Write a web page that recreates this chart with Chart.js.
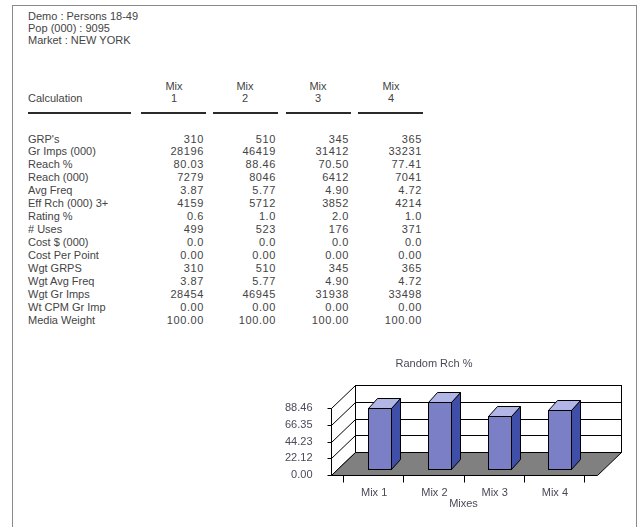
<!DOCTYPE html>
<html>
<head>
<meta charset="utf-8">
<title>Random Rch %</title>
<script src="https://cdn.jsdelivr.net/npm/chart.js@4/dist/chart.umd.min.js"></script>
<style>
  body { margin: 0; width: 639px; height: 527px; overflow: hidden; background: #fff;
         font-family: "Liberation Sans", Arial, sans-serif; font-size: 11px; color: #444; }
  #frame { position: absolute; left: 12px; top: 5px; width: 623px; height: 600px; border: 1px solid #8a8a8a; border-bottom: none; }
  .t { position: absolute; line-height: 13px; white-space: nowrap; }
  .num { letter-spacing: 0.6px; text-align: right; }
  .rule { position: absolute; height: 2px; background: #2a2a2a; top: 112px; }
  #chart { position: absolute; left: 262px; top: 345px; }
</style>
</head>
<body>
<div id="frame"></div>
<div id="report"></div>
<canvas id="chart" width="372" height="172"></canvas>
<script>
const headerLines = ['Demo : Persons 18-49', 'Pop (000) : 9095', 'Market : NEW YORK'];
const mixes = ['Mix 1', 'Mix 2', 'Mix 3', 'Mix 4'];
const rowLabels = ["GRP's", 'Gr Imps (000)', 'Reach %', 'Reach (000)', 'Avg Freq', 'Eff Rch (000) 3+',
    'Rating %', '# Uses', 'Cost $ (000)', 'Cost Per Point', 'Wgt GRPS', 'Wgt Avg Freq',
    'Wgt Gr Imps', 'Wt CPM Gr Imp', 'Media Weight'];
const rowDecimals = [0, 0, 2, 0, 2, 0, 1, 0, 1, 2, 0, 2, 0, 2, 2];
const mix1 = [310, 28196, 80.03, 7279, 3.87, 4159, 0.6, 499, 0.0, 0.00, 310, 3.87, 28454, 0.00, 100.00];
const mix2 = [510, 46419, 88.46, 8046, 5.77, 5712, 1.0, 523, 0.0, 0.00, 510, 5.77, 46945, 0.00, 100.00];
const mix3 = [345, 31412, 70.50, 6412, 4.90, 3852, 2.0, 176, 0.0, 0.00, 345, 4.90, 31938, 0.00, 100.00];
const mix4 = [365, 33231, 77.41, 7041, 4.72, 4214, 1.0, 371, 0.0, 0.00, 365, 4.72, 33498, 0.00, 100.00];

const chartTitle = 'Random Rch %';
const xAxisTitle = 'Mixes';
const randomReach = [80.03, 88.46, 70.50, 77.41];
const yTickValues = [0, 22.12, 44.23, 66.35, 88.46];
const yTickLabels = ['0.00', '22.12', '44.23', '66.35', '88.46'];

// ---- table part of the report ----
const report = document.getElementById('report');
function addText(text, left, top, cls, right) {
    const el = document.createElement('div');
    el.className = 't ' + (cls || '');
    el.textContent = text;
    el.style.top = top + 'px';
    if (right !== undefined) {
        el.style.right = (639 - right) + 'px';
    } else {
        el.style.left = left + 'px';
    }
    report.appendChild(el);
    return el;
}

headerLines.forEach((line, i) => addText(line, 28, 10 + i * 12));

const colRight = [204, 276, 349, 422];
const colCenter = [174, 245, 318, 391];
const rules = [[28, 131], [141, 206], [213, 278], [286, 351], [358, 423]];

addText('Calculation', 28, 92);
mixes.forEach((m, i) => {
    const parts = m.split(' ');
    const a = addText(parts[0], colCenter[i] - 20, 80);
    a.style.width = '40px'; a.style.textAlign = 'center';
    const b = addText(parts[1], colCenter[i] - 20, 92);
    b.style.width = '40px'; b.style.textAlign = 'center';
});
rules.forEach(r => {
    const el = document.createElement('div');
    el.className = 'rule';
    el.style.left = r[0] + 'px';
    el.style.width = (r[1] - r[0]) + 'px';
    report.appendChild(el);
});

const columns = [mix1, mix2, mix3, mix4];
rowLabels.forEach((label, i) => {
    const top = 132.5 + i * 12.97;
    addText(label, 28, top);
    columns.forEach((col, c) => {
        addText(col[i].toFixed(rowDecimals[i]), 0, top, 'num', colRight[c]);
    });
});

// ---- 3D bar chart ----
const depth = { dx: 24, dy: -23 };
const barDepth = { start: 6, dx: 9, dy: -10 };
const textColor = '#4a4a5a';
const font = '11px "Liberation Sans", Arial, sans-serif';

function line(ctx, pts) {
    ctx.beginPath();
    ctx.moveTo(pts[0][0], pts[0][1]);
    for (let i = 1; i < pts.length; i++) ctx.lineTo(pts[i][0], pts[i][1]);
}

const box3d = {
    id: 'box3d',
    beforeDatasetsDraw(chart) {
        const { ctx, chartArea: a, scales: { x, y } } = chart;
        const yMax = yTickValues[yTickValues.length - 1];
        const L = Math.round(a.left - 12) + 0.5;
        const R = Math.round(a.right + 13) + 0.5;
        const B = Math.round(y.getPixelForValue(0)) + 0.5;
        const T = Math.round(y.getPixelForValue(yMax)) + 0.5;
        const { dx, dy } = depth;
        ctx.save();
        ctx.lineWidth = 1;
        ctx.strokeStyle = '#000';

        // back wall
        ctx.fillStyle = '#fff';
        ctx.fillRect(L + dx, T + dy, R - L, B - T);
        ctx.strokeRect(L + dx, T + dy, R - L, B - T);

        // grid on left and back wall, ticks on the front axis
        yTickValues.forEach(v => {
            const py = Math.round(y.getPixelForValue(v)) + 0.5;
            line(ctx, [[L, py], [L + dx, py + dy], [R + dx, py + dy]]);
            ctx.stroke();
            line(ctx, [[L - 4, py], [L, py]]);
            ctx.stroke();
        });
        line(ctx, [[L + dx, B + dy], [L + dx, T + dy]]);
        ctx.stroke();
        line(ctx, [[L, B], [L, T]]);
        ctx.stroke();

        // floor
        line(ctx, [[L, B], [R, B], [R + dx, B + dy], [L + dx, B + dy]]);
        ctx.closePath();
        ctx.fillStyle = '#808080';
        ctx.fill();
        ctx.stroke();

        // category ticks
        const n = chart.data.labels.length;
        for (let i = 0; i <= n; i++) {
            const px = Math.round(a.left + i * a.width / n) + 0.5;
            line(ctx, [[px, B], [px, B + 7]]);
            ctx.stroke();
        }

        // texts
        ctx.fillStyle = textColor;
        ctx.font = font;
        ctx.textAlign = 'right';
        ctx.textBaseline = 'middle';
        yTickValues.forEach((v, i) => {
            ctx.fillText(yTickLabels[i], L - 19, y.getPixelForValue(v));
        });
        ctx.textAlign = 'center';
        chart.data.labels.forEach((lab, i) => {
            ctx.fillText(lab, x.getPixelForValue(i) + 1, B + 17);
        });
        ctx.fillText(xAxisTitle, (a.left + a.right) / 2, B + 28);
        ctx.fillText(chartTitle, 172, 19);
        ctx.restore();
    },
    afterDatasetsDraw(chart) {
        const { ctx } = chart;
        const meta = chart.getDatasetMeta(0);
        ctx.save();
        ctx.lineWidth = 1;
        ctx.strokeStyle = '#000';
        meta.data.forEach(bar => {
            const p = bar.getProps(['x', 'y', 'base', 'width'], true);
            const x0 = Math.round(p.x - p.width / 2 + barDepth.start) + 0.5;
            const x1 = Math.round(p.x + p.width / 2 + barDepth.start) + 0.5;
            const y0 = Math.round(p.y - barDepth.start) + 0.5;
            const y1 = Math.round(p.base - barDepth.start) + 0.5;
            const { dx, dy } = barDepth;
            // side
            line(ctx, [[x1, y0], [x1 + dx, y0 + dy], [x1 + dx, y1 + dy], [x1, y1]]);
            ctx.closePath();
            ctx.fillStyle = '#3f4fa8';
            ctx.fill(); ctx.stroke();
            // top
            line(ctx, [[x0, y0], [x0 + dx, y0 + dy], [x1 + dx, y0 + dy], [x1, y0]]);
            ctx.closePath();
            ctx.fillStyle = '#b2b6e6';
            ctx.fill(); ctx.stroke();
            // front
            ctx.fillStyle = '#7b7fc6';
            ctx.fillRect(x0, y0, x1 - x0, y1 - y0);
            ctx.strokeRect(x0, y0, x1 - x0, y1 - y0);
        });
        ctx.restore();
    }
};

new Chart(document.getElementById('chart'), {
    type: 'bar',
    data: {
        labels: mixes,
        datasets: [{
            label: chartTitle,
            data: randomReach,
            backgroundColor: 'rgba(0,0,0,0)',
            borderWidth: 0,
            categoryPercentage: 1,
            barPercentage: 0.38
        }]
    },
    options: {
        responsive: false,
        animation: false,
        layout: { padding: { left: 81, right: 50, top: 63, bottom: 42 } },
        plugins: {
            legend: { display: false },
            tooltip: { enabled: false },
            title: { display: false }
        },
        scales: {
            x: { display: false },
            y: { display: false, min: 0, max: yTickValues[yTickValues.length - 1] }
        }
    },
    plugins: [box3d]
});
</script>
</body>
</html>
